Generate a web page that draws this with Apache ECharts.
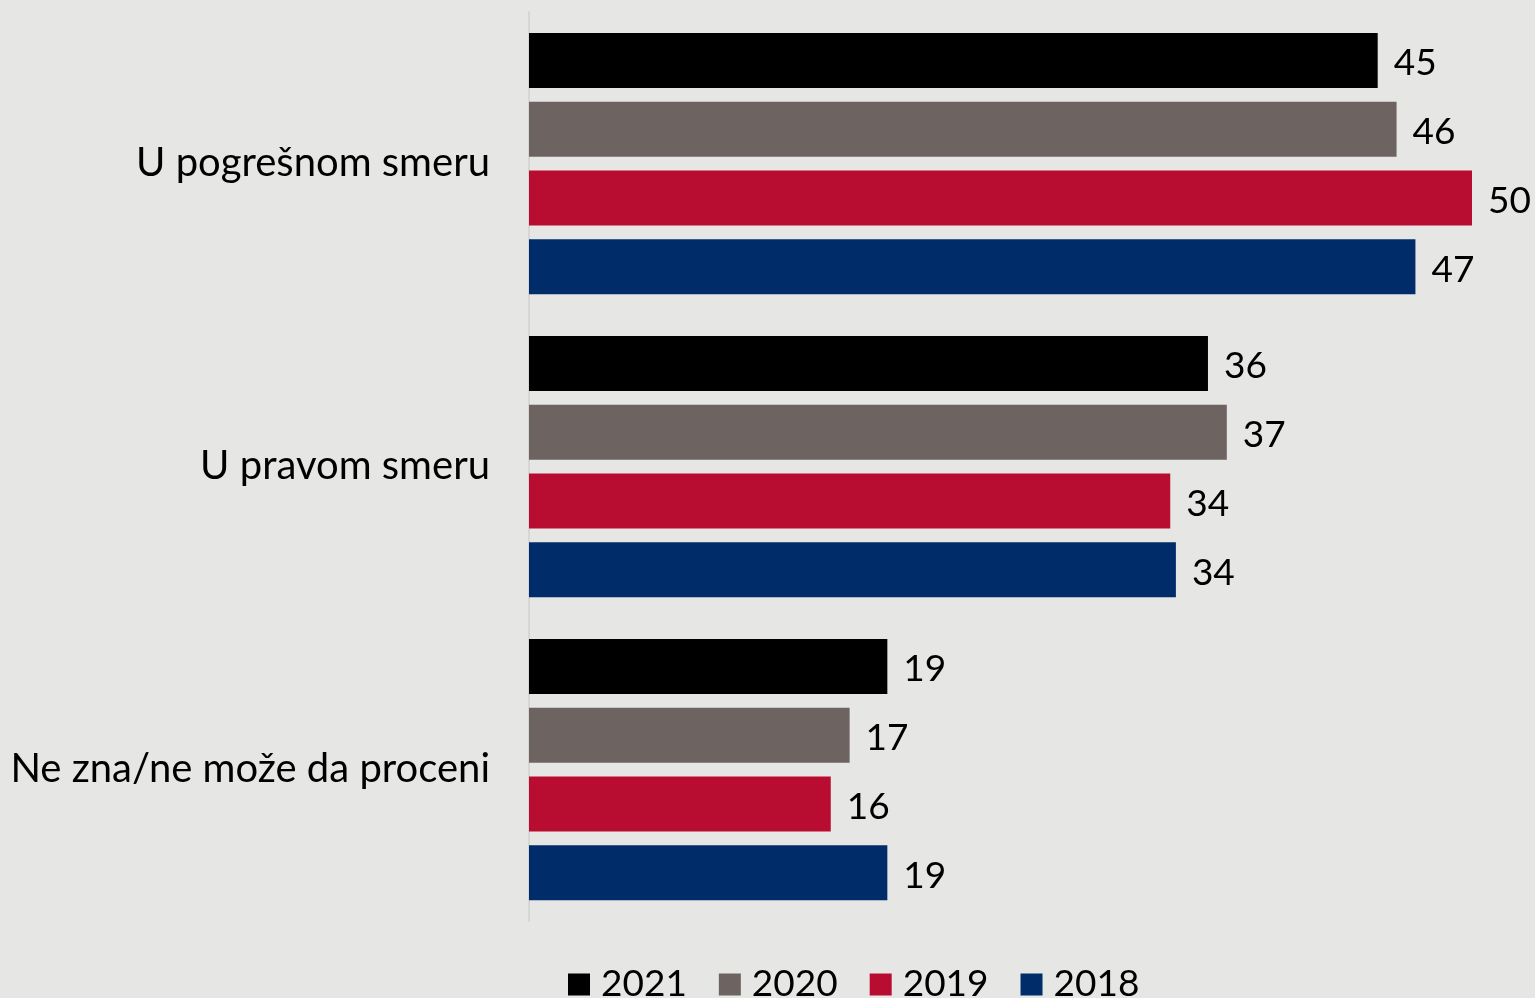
<!DOCTYPE html>
<html>
<head>
<meta charset="utf-8">
<script src="https://cdn.jsdelivr.net/npm/echarts@6/dist/echarts.min.js"></script>
<style>
  html, body { margin: 0; padding: 0; background: #e6e6e4; }
  #chart { width: 1535px; height: 998px; }
</style>
</head>
<body>
<div id="chart"></div>
<script>
const categories = ["U pogrešnom smeru", "U pravom smeru", "Ne zna/ne može da proceni"];
const years = ["2021", "2020", "2019", "2018"];
const values2021 = [45, 36, 19];
const values2020 = [46, 37, 17];
const values2019 = [50, 34, 16];
const values2018 = [47, 34.3, 19];
const colors = ["#000000", "#6d6462", "#b80c30", "#002d6a"];

const font = "Lato, 'Open Sans', sans-serif";
const seriesValues = [values2021, values2020, values2019, values2018];

const chart = echarts.init(document.getElementById("chart"));

chart.setOption({
	backgroundColor: "#e6e6e4",
	animation: false,
	color: colors,
	grid: {
		left: 529,
		right: 63,
		top: 12,
		bottom: 77,
		containLabel: false,
	},
	legend: {
		bottom: -10,
		left: 563,
		itemWidth: 22,
		itemHeight: 22,
		itemGap: 32,
		icon: "rect",
		textStyle: {
			fontFamily: font,
			fontSize: 37,
			color: "#000",
			padding: [0, 0, 0, 6],
		},
		data: years,
	},
	xAxis: {
		type: "value",
		min: 0,
		max: 50,
		show: false,
	},
	yAxis: {
		type: "category",
		inverse: true,
		data: categories,
		axisLine: { show: true, lineStyle: { color: "#d6d6d4", width: 2 } },
		axisTick: { show: false },
		axisLabel: {
			margin: 39,
			fontFamily: font,
			fontSize: 40,
			color: "#000",
		},
	},
	series: years.map((year, i) => ({
		name: year,
		type: "bar",
		data: seriesValues[i],
		barWidth: 55,
		barGap: "25%",
		label: {
			show: true,
			position: "right",
			distance: 16,
			offset: [0, 3],
			fontFamily: font,
			fontSize: 37,
			color: "#000",
			formatter: (p) => Math.round(p.value),
		},
	})),
});
</script>
</body>
</html>
